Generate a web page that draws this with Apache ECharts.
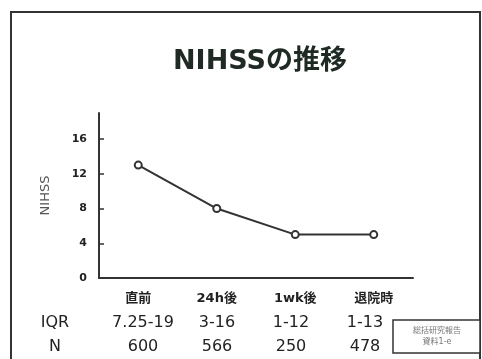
<!DOCTYPE html>
<html>
<head>
<meta charset="utf-8">
<title>NIHSSの推移</title>
<script src="https://cdn.jsdelivr.net/npm/echarts@6/dist/echarts.min.js"></script>
<style>
  html, body { margin: 0; padding: 0; background: #fff; }
  #main { width: 482px; height: 359px; }
</style>
</head>
<body>
<div id="main"></div>
<script>
// data
var categories = ['直前', '24h後', '1wk後', '退院時'];
var nihss = [13, 8, 5, 5];
var iqr = ['7.25-19', '3-16', '1-12', '1-13'];
var counts = [600, 566, 250, 478];
var yTicks = [0, 4, 8, 12, 16];

var FONT = "'DejaVu Sans', 'Noto Sans CJK JP', sans-serif";
var chart = echarts.init(document.getElementById('main'));

var option = {
  backgroundColor: '#fff',
  animation: false,
  title: {
    text: 'NIHSSの推移',
    left: 168,
    top: 43,
    textStyle: { fontFamily: FONT, fontSize: 27, fontWeight: 'bold', color: '#1f2a24' }
  },
  grid: [
    { left: 99, right: 69, top: 113, bottom: 81 },
    { left: 106, right: 80, top: 113, bottom: 81 }
  ],
  xAxis: [{
    type: 'category',
    gridIndex: 0,
    data: categories,
    axisLine: { lineStyle: { color: '#333', width: 2 } },
    axisTick: { show: false },
    axisLabel: {
      margin: 14,
      fontFamily: FONT, fontSize: 13, fontWeight: 'bold', color: '#222'
    }
  }, {
    type: 'category',
    gridIndex: 1,
    data: categories,
    axisLine: { show: false },
    axisTick: { show: false },
    axisLabel: {
      interval: 0,
      margin: 35,
      fontFamily: FONT, fontSize: 16, color: '#222', lineHeight: 24,
      formatter: function (v, i) { return iqr[i] + '\n' + counts[i]; }
    }
  }],
  yAxis: [{
    type: 'value',
    gridIndex: 0,
    min: 0,
    max: 19,
    name: 'NIHSS',
    nameLocation: 'middle',
    nameRotate: 90,
    nameGap: 47,
    nameTextStyle: { fontFamily: FONT, fontSize: 13, color: '#555' },
    axisLine: { show: true, lineStyle: { color: '#333', width: 2 } },
    axisTick: { show: true, inside: true, length: 5, customValues: yTicks, lineStyle: { color: '#333', width: 1.5 } },
    axisLabel: { margin: 12, customValues: yTicks, fontFamily: FONT, fontSize: 11, fontWeight: 'bold', color: '#222' },
    splitLine: { show: false }
  }, {
    type: 'value', gridIndex: 1, show: false, min: 0, max: 19
  }],
  series: [{
    type: 'line',
    xAxisIndex: 0,
    yAxisIndex: 0,
    data: nihss,
    symbol: 'emptyCircle',
    symbolSize: 7,
    lineStyle: { color: '#333', width: 2 },
    itemStyle: { color: '#333', borderWidth: 1.5 }
  }],
  graphic: [
    {
      type: 'rect',
      shape: { x: 11, y: 12, width: 469, height: 370 },
      style: { fill: 'none', stroke: '#333', lineWidth: 2 }
    },
    {
      type: 'text', x: 55, y: 323,
      style: { text: 'IQR', font: '16px ' + FONT, fill: '#222', align: 'center', verticalAlign: 'middle' }
    },
    {
      type: 'text', x: 55, y: 347,
      style: { text: 'N', font: '16px ' + FONT, fill: '#222', align: 'center', verticalAlign: 'middle' }
    },
    {
      type: 'rect',
      shape: { x: 393, y: 320, width: 87, height: 33 },
      style: { fill: '#fff', stroke: '#333', lineWidth: 1.5 }
    },
    {
      type: 'text', x: 437, y: 336,
      style: { text: '総括研究報告\n資料1-e', font: '8px ' + FONT, fill: '#777', align: 'center', verticalAlign: 'middle', lineHeight: 11 }
    }
  ]
};

chart.setOption(option);
</script>
</body>
</html>
